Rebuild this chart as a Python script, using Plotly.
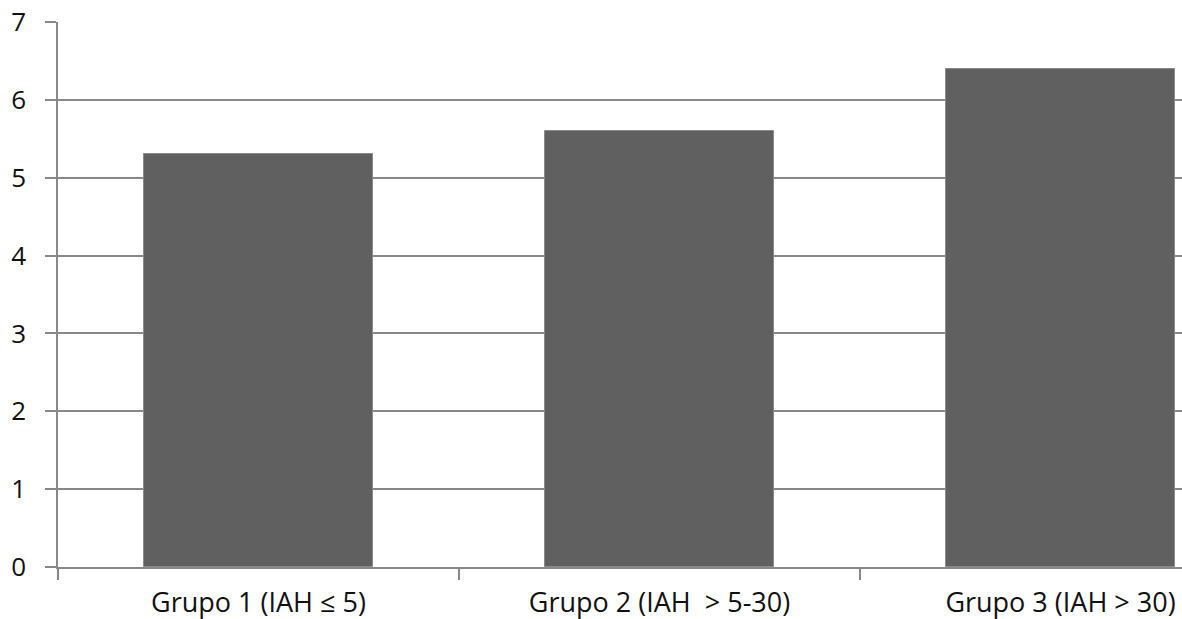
import plotly.graph_objects as go

categories = ["Grupo 1 (IAH ≤ 5)", "Grupo 2 (IAH  > 5-30)", "Grupo 3 (IAH > 30)"]
values = [5.3, 5.6, 6.4]
y_ticks = [0, 1, 2, 3, 4, 5, 6, 7]

fig = go.Figure()
fig.add_trace(go.Bar(
    x=categories, y=values, width=0.572,
    marker=dict(color="#606060", line=dict(color="#8a8a8a", width=1)),
))

fig.update_layout(
    width=1182, height=619,
    margin=dict(l=58, r=0, t=22, b=52),
    paper_bgcolor="white", plot_bgcolor="white",
    showlegend=False,
    font=dict(family="Open Sans", size=21, color="#111111"),
    bargap=0,
)
fig.update_xaxes(
    type="category", range=[-0.5, 2.303], automargin=False,
    tickson="boundaries", ticks="outside", ticklen=11, tickwidth=1.5, tickcolor="#888888",
    showline=True, linecolor="#888888", linewidth=1.5,
    showgrid=False, ticklabelstandoff=11, ticklabeloverflow="allow",
    tickfont=dict(size=27),
)
fig.update_yaxes(
    range=[0, 7], tickvals=y_ticks, automargin=False,
    ticks="outside", ticklen=11, tickwidth=1.5, tickcolor="#888888",
    showline=True, linecolor="#888888", linewidth=1.5,
    showgrid=True, gridcolor="#888888", gridwidth=1.5,
    zeroline=False, ticklabelstandoff=14, ticklabeloverflow="allow",
    tickfont=dict(size=26),
)

fig.write_html(
    "out.html",
    config={"displayModeBar": False},
    post_script="document.body.style.margin='0';document.body.style.padding='0';",
)
